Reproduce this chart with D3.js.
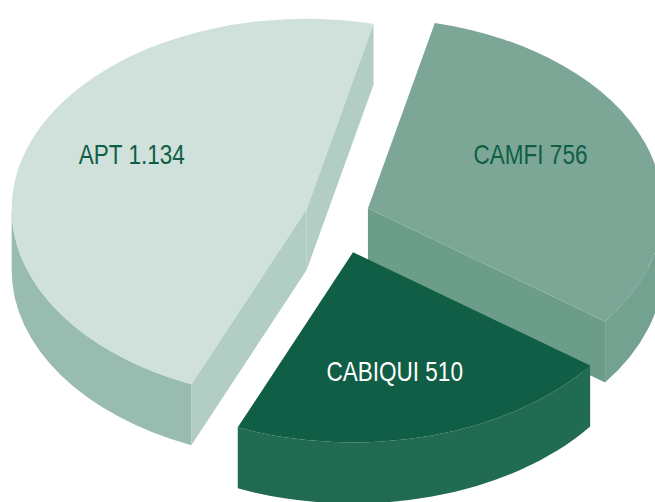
<!DOCTYPE html>
<html>
<head>
<meta charset="utf-8">
<script src="https://cdn.jsdelivr.net/npm/d3@7"></script>
<style>
  html, body { margin: 0; padding: 0; background: #ffffff; }
  svg { display: block; }
</style>
</head>
<body>
<svg id="pie3d"></svg>
<script>
/*Chart data*/
const names  = ["APT", "CAMFI", "CABIQUI"];
const values = [1134, 756, 510];
const labels = ["APT 1.134", "CAMFI 756", "CABIQUI 510"];

/*Styles*/
const topColors  = ["#cfe1da", "#7ca797", "#0f5e45"];
const wallColors = ["#98bdb0", "#73a290", "#226b53"];
const cutColors  = ["#b2cdc4", "#6c9d89", "#1c664e"];
const textColors = ["#0f5e45", "#0f5e45", "#ffffff"];
const explode    = [0.11, 0.11, 0.2];
/*label nudges: angle (deg) and radius fraction*/
const labelShift = [8, -7.1, 2.5];
const labelRad   = [0.66, 0.62, 0.64];

/*Canvas*/
const chartWidth = 655;
const chartHeight = 502;
const R = 295;          // radius of the disc
const tilt = 0.645;     // vertical squash of the disc
const depth = 61;       // thickness in px
const cx = 337.5, cy = 215.5;
const startDeg = -157;

const rad = Math.PI / 180;
const Hs = depth / tilt;

const svg = d3.select("#pie3d")
       .attr("width", chartWidth)
       .attr("height", chartHeight);

const pie = d3.pie()
       .sort(null)
       .value(d => d)
       .startAngle(startDeg * rad)
       .endAngle(startDeg * rad + 2 * Math.PI);

const arcs = pie(values);

const arc = d3.arc().innerRadius(0).outerRadius(R);

/*outer wall of the disc between two angles*/
function wallPath(a0, a1){
       const p = d3.path();
       const c0 = a0 - Math.PI / 2, c1 = a1 - Math.PI / 2;
       p.moveTo(R * Math.cos(c0), R * Math.sin(c0));
       p.arc(0, 0, R, c0, c1, false);
       p.lineTo(R * Math.cos(c1), R * Math.sin(c1) + Hs);
       p.arc(0, Hs, R, c1, c0, true);
       p.closePath();
       return p.toString();
}

/*flat cut face from centre to rim*/
function cutPath(a){
       const x = R * Math.sin(a), y = -R * Math.cos(a);
       return d3.line()([[0, 0], [x, y], [x, y + Hs], [0, Hs]]) + "Z";
}

/*front half of the rim is where -cos(a) > 0*/
function visibleRanges(a0, a1){
       const out = [];
       for (let n = -1; n <= 1; n++){
              const lo = Math.PI / 2 + 2 * Math.PI * n;
              const hi = 3 * Math.PI / 2 + 2 * Math.PI * n;
              const s = Math.max(a0, lo), e = Math.min(a1, hi);
              if (s < e) out.push([s, e]);
       }
       return out;
}

const slices = arcs.map((d, i) => {
       const mid = (d.startAngle + d.endAngle) / 2;
       return {
              d: d, i: i, mid: mid,
              ox: explode[i] * R * Math.sin(mid),
              oy: -explode[i] * R * tilt * Math.cos(mid),
              front: -Math.cos(mid)
       };
});

/*draw back to front*/
slices.sort((a, b) => a.front - b.front);

const group = svg.selectAll(".slice")
       .data(slices)
       .enter()
       .append("g")
       .attr("class", "slice")
       .attr("id", s => names[s.i])
       .attr("transform", s => "translate(" + (cx + s.ox) + "," + (cy + s.oy) + ")");

group.each(function(s){
       const g = d3.select(this);
       const solid = g.append("g").attr("transform", "scale(1," + tilt + ")");
       const a0 = s.d.startAngle, a1 = s.d.endAngle;

       // cut faces facing the viewer
       if (Math.sin(a0) < 0){
              solid.append("path").attr("d", cutPath(a0)).attr("fill", cutColors[s.i]);
       }
       if (Math.sin(a1) > 0){
              solid.append("path").attr("d", cutPath(a1)).attr("fill", cutColors[s.i]);
       }
       // rim
       visibleRanges(a0, a1).forEach(r => {
              solid.append("path").attr("d", wallPath(r[0], r[1])).attr("fill", wallColors[s.i]);
       });
       // top face
       solid.append("path").attr("d", arc(s.d)).attr("fill", topColors[s.i]);

       // label, condensed like the original
       const la = s.mid + labelShift[s.i] * rad;
       const lr = labelRad[s.i] * R;
       g.append("text")
              .attr("transform", "translate(" + (lr * Math.sin(la)) + "," + (-lr * tilt * Math.cos(la)) + ") scale(0.82,1)")
              .attr("dy", "0.36em")
              .attr("text-anchor", "middle")
              .attr("font-family", "'Liberation Sans', Arial, sans-serif")
              .attr("font-size", "27.5px")
              .attr("fill", textColors[s.i])
              .text(labels[s.i]);
});
</script>
</body>
</html>
